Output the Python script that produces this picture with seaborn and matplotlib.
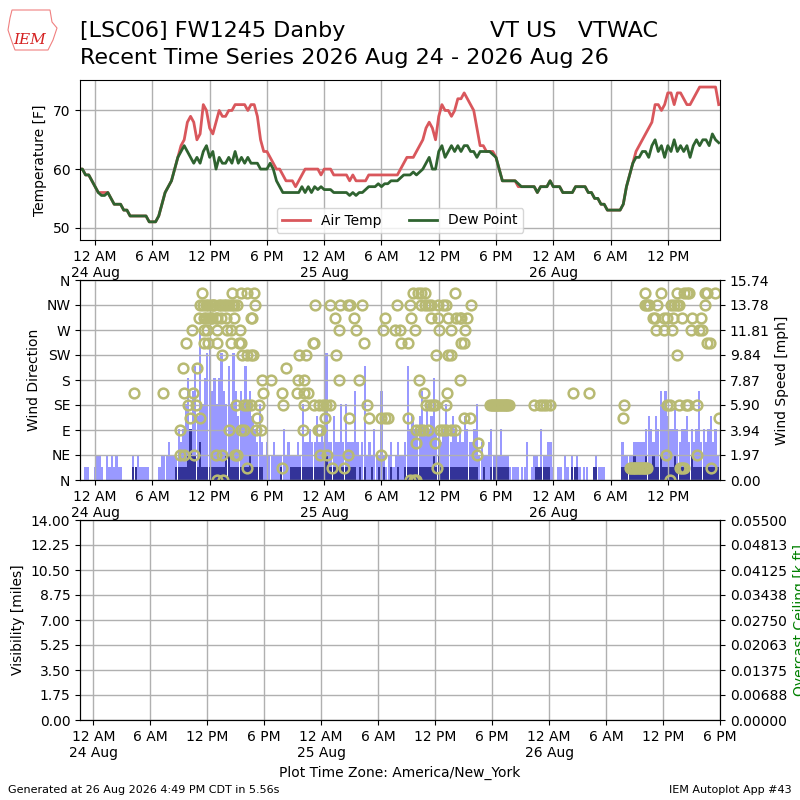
import datetime as dt
import numpy as np
import pandas as pd
import matplotlib
matplotlib.use('Agg')
import matplotlib.pyplot as plt
import matplotlib.dates as mdates
from matplotlib.ticker import FuncFormatter
import seaborn as sns

# all times America/New_York, series start 10 PM 23 Aug
T0 = dt.datetime(2026, 8, 24)

# air temp / dew point [F], every 20 min (one row = one hour)
air_temp = [
    60, 60, 60, 59, 59, 58, 57, 56, 56, 56, 56, 55,
    54, 54, 54, 53, 53, 52, 52, 52, 52, 52, 52, 51,
    51, 51, 52, 54, 56, 57, 58, 60, 62, 64, 65, 68,
    69, 68, 65, 66, 71, 70, 67, 66, 68, 70, 69, 69,
    70, 70, 71, 71, 71, 71, 70, 71, 71, 69, 65, 63,
    63, 62, 61, 60, 60, 59, 58, 58, 58, 57, 58, 59,
    60, 60, 60, 60, 60, 59, 60, 60, 60, 59, 59, 59,
    59, 59, 58, 59, 58, 58, 58, 58, 59, 59, 59, 59,
    59, 59, 59, 59, 59, 59, 60, 61, 62, 62, 62, 63,
    64, 65, 67, 68, 67, 65, 69, 71, 70, 70, 69, 70,
    72, 72, 73, 72, 71, 70, 67, 64, 64, 63, 63, 63,
    62, 60, 58, 58, 58, 58, 58, 57, 57, 57, 57, 57,
    57, 56, 57, 57, 57, 58, 57, 57, 57, 56, 56, 56,
    56, 57, 57, 57, 57, 56, 56, 55, 55, 54, 54, 53,
    53, 53, 53, 53, 54, 57, 59, 61, 63, 64, 65, 66,
    67, 68, 71, 71, 70, 71, 73, 73, 71, 73, 73, 72,
    71, 71, 72, 73, 74, 74, 74, 74, 74, 74, 71,
]
dew_point = [
    60, 60, 60, 59, 59, 58, 57, 56, 55.5, 55.5, 56, 55,
    54, 54, 54, 53, 53, 52, 52, 52, 52, 52, 52, 51,
    51, 51, 52, 54, 56, 57, 58, 60, 62, 63, 64, 63,
    62, 61, 62, 61, 63, 64, 62, 63, 60, 62, 61, 61,
    62, 61, 63, 61, 62, 61, 62, 61, 61, 61, 60, 60,
    60, 61, 60, 58, 57, 56, 56, 56, 56, 56, 56, 57,
    56, 57, 56, 57, 56.5, 57, 56.5, 56.5, 56.5, 56, 56, 56,
    56, 56, 55.5, 56, 55.5, 56, 56, 56.5, 57, 57, 57, 57.5,
    57, 57.5, 57.5, 58, 58, 58, 58.5, 59, 59, 59, 59.5, 59,
    59.5, 60, 61, 62, 60, 60, 63, 64, 62, 63, 64, 63,
    64, 63, 64, 64, 63, 63, 62, 63, 63, 63, 63, 62.5,
    62, 60, 58, 58, 58, 58, 58, 57.5, 57, 57, 57, 57,
    57, 56, 57, 57, 57, 58, 57, 57, 57, 56, 56, 56,
    56, 57, 57, 57, 57, 56, 56, 55, 55, 54, 54, 53,
    53, 53, 53, 53, 54, 57, 59, 61, 62, 62, 63, 63,
    62, 64, 65, 63, 64, 62, 64, 63, 65, 63, 64, 63,
    64, 62, 64, 65, 64, 65, 65, 64, 66, 65, 64.5,
]

# wind gust / speed [mph], every 15 min (one row = one hour)
wind_gust = [
    0, 0, 0, 0,  1, 1, 0, 0,  1, 2, 2, 1,  0, 2, 1, 2,
    1, 2, 1, 1,  0, 0, 0, 0,  2, 1, 2, 1,  1, 1, 1, 0,
    0, 0, 0, 1,  2, 2, 2, 3,  2, 2, 2, 4,  3, 4, 6, 8,
    4, 7, 9, 5,  12, 6, 8, 10,  11, 7, 8, 6,  8, 10, 7, 6,
    9, 6, 10, 7,  5, 7, 6, 9,  6, 7, 5, 4,  3, 6, 3, 2,
    3, 2, 2, 3,  2, 2, 2, 4,  2, 3, 2, 2,  2, 3, 2, 6,
    3, 3, 4, 3,  3, 5, 3, 4,  3, 10, 3, 3,  5, 3, 3, 6,
    3, 6, 3, 3,  3, 7, 3, 2,  3, 9, 2, 3,  2, 4, 2, 2,
    7, 2, 1, 2,  3, 1, 2, 3,  2, 2, 3, 9,  4, 5, 4, 4,
    5, 7, 4, 6,  4, 5, 8, 4,  4, 3, 4, 6,  4, 3, 5, 4,
    3, 4, 3, 5,  4, 3, 3, 4,  6, 2, 3, 2,  2, 3, 4, 2,
    2, 2, 4, 2,  2, 2, 1, 1,  1, 1, 0, 1,  1, 3, 0, 1,
    2, 2, 1, 4,  2, 2, 3, 3,  1, 0, 1, 1,  0, 2, 1, 0,
    2, 1, 2, 1,  0, 1, 1, 0,  0, 1, 2, 1,  1, 1, 0, 0,
    0, 0, 0, 0,  0, 3, 2, 2,  2, 2, 3, 3,  3, 3, 3, 4,
    5, 4, 3, 5,  4, 7, 6, 7,  5, 4, 4, 6,  4, 3, 4, 4,
    5, 3, 4, 3,  4, 7, 3, 4,  3, 4, 5, 3,  4, 2,
]
wind_speed = [
    0, 0, 0, 0,  0, 0, 0, 0,  0, 0, 0, 0,  0, 0, 0, 0,
    0, 0, 0, 0,  0, 0, 0, 0,  1, 1, 0, 0,  0, 0, 0, 0,
    0, 0, 0, 0,  0, 0, 0, 0,  0, 0, 1, 1,  1, 1, 1, 2,
    4, 2, 2, 1,  3, 1, 1, 1,  1, 1, 1, 1,  1, 1, 1, 2,
    2, 1, 1, 1,  1, 1, 1, 1,  1, 2, 1, 1,  1, 1, 1, 0,
    0, 0, 0, 0,  0, 0, 1, 0,  0, 0, 1, 1,  1, 1, 1, 1,
    1, 1, 1, 1,  1, 1, 1, 1,  1, 2, 1, 1,  1, 1, 1, 1,
    1, 1, 1, 1,  1, 1, 0, 1,  0, 1, 0, 0,  1, 0, 0, 1,
    0, 1, 0, 0,  1, 0, 0, 1,  0, 0, 1, 1,  1, 1, 1, 1,
    1, 1, 1, 1,  1, 1, 2, 1,  2, 1, 1, 1,  1, 1, 1, 1,
    1, 1, 1, 1,  1, 1, 1, 1,  1, 0, 0, 1,  0, 0, 1, 1,
    1, 1, 1, 1,  1, 1, 0, 0,  0, 0, 0, 0,  0, 0, 0, 0,
    0, 1, 1, 1,  1, 1, 1, 0,  0, 0, 0, 0,  0, 0, 0, 0,
    1, 1, 1, 0,  0, 0, 0, 0,  0, 1, 1, 0,  0, 0, 0, 0,
    0, 0, 0, 0,  0, 1, 1, 1,  1, 1, 2, 1,  1, 1, 1, 2,
    1, 1, 2, 1,  1, 2, 1, 1,  1, 1, 1, 2,  1, 1, 1, 1,
    1, 1, 2, 1,  1, 1, 1, 1,  1, 1, 1, 1,  1, 1,
]

# wind direction obs, hours after 12 AM 24 Aug, one list per compass point
wd_N = [12.72, 13.42, 32.95, 33.4, 33.65, 60.22]
wd_NNE = [15.95, 19.56, 24.78, 26.04, 35.82,
          56.0, 56.15, 56.3, 56.45, 56.6, 56.75, 56.9, 57.05, 57.2, 57.35,
          57.5, 57.65, 57.8, 61.27, 61.51, 61.69, 64.49]
wd_NE = [8.94, 9.36, 10.34, 12.62, 13.32, 14.62, 14.9,
         23.59, 24.29, 26.46, 29.97, 40.06, 59.76, 63.09]
wd_ENE = [33.65, 35.65, 40.13]
wd_E = [8.87, 14.02, 15.25, 15.6, 16.82, 17.35,
        21.73, 23.38, 23.59, 33.65, 34.0, 34.35, 34.88, 36.1, 36.45, 36.8,
        37.26, 37.75]
wd_ESE = [9.92, 10.97, 17.0, 24.11, 26.64, 28.67, 29.97, 30.32, 30.67,
          32.77, 38.66, 39.26, 55.27, 65.4]
wd_SE = [9.71, 10.52, 14.72, 15.6, 15.95, 16.3, 17.17, 19.73,
         21.91, 22.96, 23.48, 23.83, 24.19, 24.64, 28.5, 34.7, 35.05, 35.4,
         35.65, 36.8, 41.4, 41.55, 41.7, 41.85, 42.0, 42.15, 42.3, 42.45,
         42.6, 42.75, 42.9, 43.05, 43.2, 43.4, 45.99, 46.62, 46.97, 47.25,
         47.67, 55.38, 59.94, 60.22, 61.16, 61.87, 62.11, 63.02]
wd_SSE = [4.03, 7.12, 9.36, 10.27, 17.63, 19.63,
          21.14, 21.91, 22.26, 34.45, 36.91, 50.02, 51.7]
wd_S = [17.53, 18.4, 21.21, 21.84, 25.59, 27.69, 33.89, 38.2]
wd_SSW = [9.22, 10.69, 19.98]
wd_SW = [13.25, 15.42, 15.95, 16.3, 16.58,
         21.38, 22.08, 25.24, 35.75, 36.98, 37.33, 60.92]
wd_WSW = [9.57, 11.39, 11.81, 12.79, 14.2, 15.07, 15.32,
          22.78, 22.96, 28.22, 32.0, 32.77, 38.38, 38.66, 64.14, 64.42]
wd_W = [10.16, 11.39, 11.74, 12.79, 13.85, 14.2, 15.18,
        25.52, 27.34, 30.18, 31.37, 31.9, 33.54, 36.03, 37.33, 38.73,
        58.71, 59.59, 60.46, 62.46, 63.27, 63.62]
wd_WNW = [10.87, 11.39, 11.6, 11.92, 12.1, 12.27, 12.62, 12.8, 13.14, 13.67,
          14.55, 16.3, 16.47,
          25.13, 27.16, 30.39, 33.05, 35.23, 35.93, 36.98, 37.86, 38.2, 38.38,
          38.91, 58.43, 58.61, 59.59, 59.94, 60.57, 61.51, 62.57, 63.51]
wd_NW = [11.04, 11.3, 11.57, 11.8, 12.09, 12.3, 12.44, 12.97, 13.2, 13.49,
         13.7, 14.02, 14.3, 14.55, 14.9, 16.72,
         23.03, 24.64, 25.69, 26.53, 26.74, 27.97, 31.65, 32.95, 34.17, 34.52,
         34.88, 35.23, 35.93, 36.45, 36.8, 39.43,
         57.66, 57.83, 58.01, 58.89, 60.36, 60.64, 60.99, 61.16, 63.86]
wd_NNW = [11.15, 14.3, 15.25, 15.95, 16.65,
          33.3, 33.82, 34.17, 34.52, 37.68,
          57.66, 59.31, 60.99, 61.69, 62.04, 62.22, 63.86, 64.07, 64.91]

compass = ['N', 'NE', 'E', 'SE', 'S', 'SW', 'W', 'NW', 'N']

RED = '#d9575c'
GREEN = '#2f6330'
LIGHT = '#9999ff'
DARK = '#333399'
OLIVE = '#b8ba73'


def fmt_tick(x, pos):
    d = mdates.num2date(x)
    s = d.strftime('%I %p').lstrip('0')
    if d.hour == 0:
        s += '\n' + d.strftime('%d %b')
    return s


def time_axis(ax, x0, x1):
    ax.set_xlim(x0, x1)
    ax.xaxis.set_major_locator(mdates.HourLocator(byhour=[0, 6, 12, 18]))
    ax.xaxis.set_major_formatter(FuncFormatter(fmt_tick))
    ax.grid(True, color='#b0b0b0', lw=1)


def main():
    t20 = pd.date_range('2026-08-23 22:00', periods=len(air_temp), freq='20min')
    t15 = pd.date_range('2026-08-23 22:00', periods=len(wind_gust), freq='15min')
    x0 = dt.datetime(2026, 8, 23, 22, 25)
    x1 = dt.datetime(2026, 8, 26, 17, 28)

    fig = plt.figure(figsize=(8, 8), dpi=100)
    ax_t = fig.add_axes([0.1, 0.7, 0.8, 0.2])
    ax_w = fig.add_axes([0.1, 0.4, 0.8, 0.25])
    ax_b = fig.add_axes([0.1, 0.1, 0.8, 0.25])

    # temperature
    df = pd.DataFrame({'valid': t20, 'tmpf': air_temp, 'dwpf': dew_point})
    sns.lineplot(data=df, x='valid', y='tmpf', ax=ax_t, color=RED, lw=2,
                 label='Air Temp')
    sns.lineplot(data=df, x='valid', y='dwpf', ax=ax_t, color=GREEN, lw=2,
                 label='Dew Point')
    ax_t.set_ylim(47.9, 75.2)
    ax_t.set_yticks([50, 60, 70])
    ax_t.set_ylabel('Temperature [F]')
    ax_t.set_xlabel('')
    time_axis(ax_t, x0, x1)
    ax_t.legend(loc='lower center', ncol=2, fontsize=10)

    # wind
    ax_s = ax_w.twinx()
    xs = mdates.date2num(t15)
    ax_s.bar(xs, wind_gust, width=14 / 1440., color=LIGHT, lw=0)
    ax_s.bar(xs, wind_speed, width=14 / 1440., color=DARK, lw=0)
    smax = 15.744
    st = np.linspace(0, smax, 9)
    ax_s.set_ylim(0, smax)
    ax_s.set_yticks(st)
    ax_s.set_yticklabels(['%.2f' % v for v in st])
    ax_s.set_ylabel('Wind Speed [mph]')

    groups = [wd_N, wd_NNE, wd_NE, wd_ENE, wd_E, wd_ESE, wd_SE, wd_SSE,
              wd_S, wd_SSW, wd_SW, wd_WSW, wd_W, wd_WNW, wd_NW, wd_NNW]
    hrs, deg = [], []
    for i, g in enumerate(groups):
        hrs += g
        deg += [i * 22.5] * len(g)
    dtimes = [T0 + dt.timedelta(hours=h) for h in hrs]
    ax_w.plot(dtimes, deg, ls='none', marker='o', ms=7, mfc='none',
              mec=OLIVE, mew=1.8)
    ax_w.set_ylim(0, 360)
    ax_w.set_yticks(range(0, 361, 45))
    ax_w.set_yticklabels(compass)
    ax_w.set_ylabel('Wind Direction')
    time_axis(ax_w, x0, x1)
    ax_w.set_zorder(ax_s.get_zorder() + 1)
    ax_w.patch.set_visible(False)

    # visibility / ceiling (no obs)
    time_axis(ax_b, dt.datetime(2026, 8, 23, 22, 36), dt.datetime(2026, 8, 26, 18, 0))
    ax_b.set_ylim(0, 14)
    vt = np.linspace(0, 14, 9)
    ax_b.set_yticks(vt)
    ax_b.set_yticklabels(['%.2f' % v for v in vt])
    ax_b.set_ylabel('Visibility [miles]')
    ax_b.set_xlabel('Plot Time Zone: America/New_York')
    ax_c = ax_b.twinx()
    ct = np.linspace(0, 0.055, 9)
    ax_c.set_ylim(0, 0.055)
    ax_c.set_yticks(ct)
    ax_c.set_yticklabels(['%.5f' % v for v in ct])
    ax_c.set_ylabel('Overcast Ceiling [k ft]', color='green')

    # header / footer
    fig.text(0.1, 0.954, '[LSC06] FW1245 Danby', fontsize=16, va='baseline')
    fig.text(0.6125, 0.954, 'VT US   VTWAC', fontsize=16, va='baseline')
    fig.text(0.1, 0.92, 'Recent Time Series 2026 Aug 24 - 2026 Aug 26',
             fontsize=16, va='baseline')
    iowa = np.array([(12, 10), (50, 10), (52, 22), (57, 28), (53, 40),
                     (48, 50), (15, 50), (12, 42), (8, 30), (10, 18)])
    fig.add_artist(plt.Polygon(np.column_stack([iowa[:, 0] / 800., 1 - iowa[:, 1] / 800.]),
                               closed=True, fill=False, ec='#f08080', lw=0.8,
                               transform=fig.transFigure))
    fig.text(0.016, 0.945, 'IEM', color='#d42020', fontsize=11,
             style='italic', family='serif')
    fig.text(0.01, 0.009, 'Generated at 26 Aug 2026 4:49 PM CDT in 5.56s',
             fontsize=8)
    fig.text(0.99, 0.009, 'IEM Autoplot App #43', fontsize=8, ha='right')

    fig.savefig('out.png', dpi=100)


if __name__ == '__main__':
    main()
